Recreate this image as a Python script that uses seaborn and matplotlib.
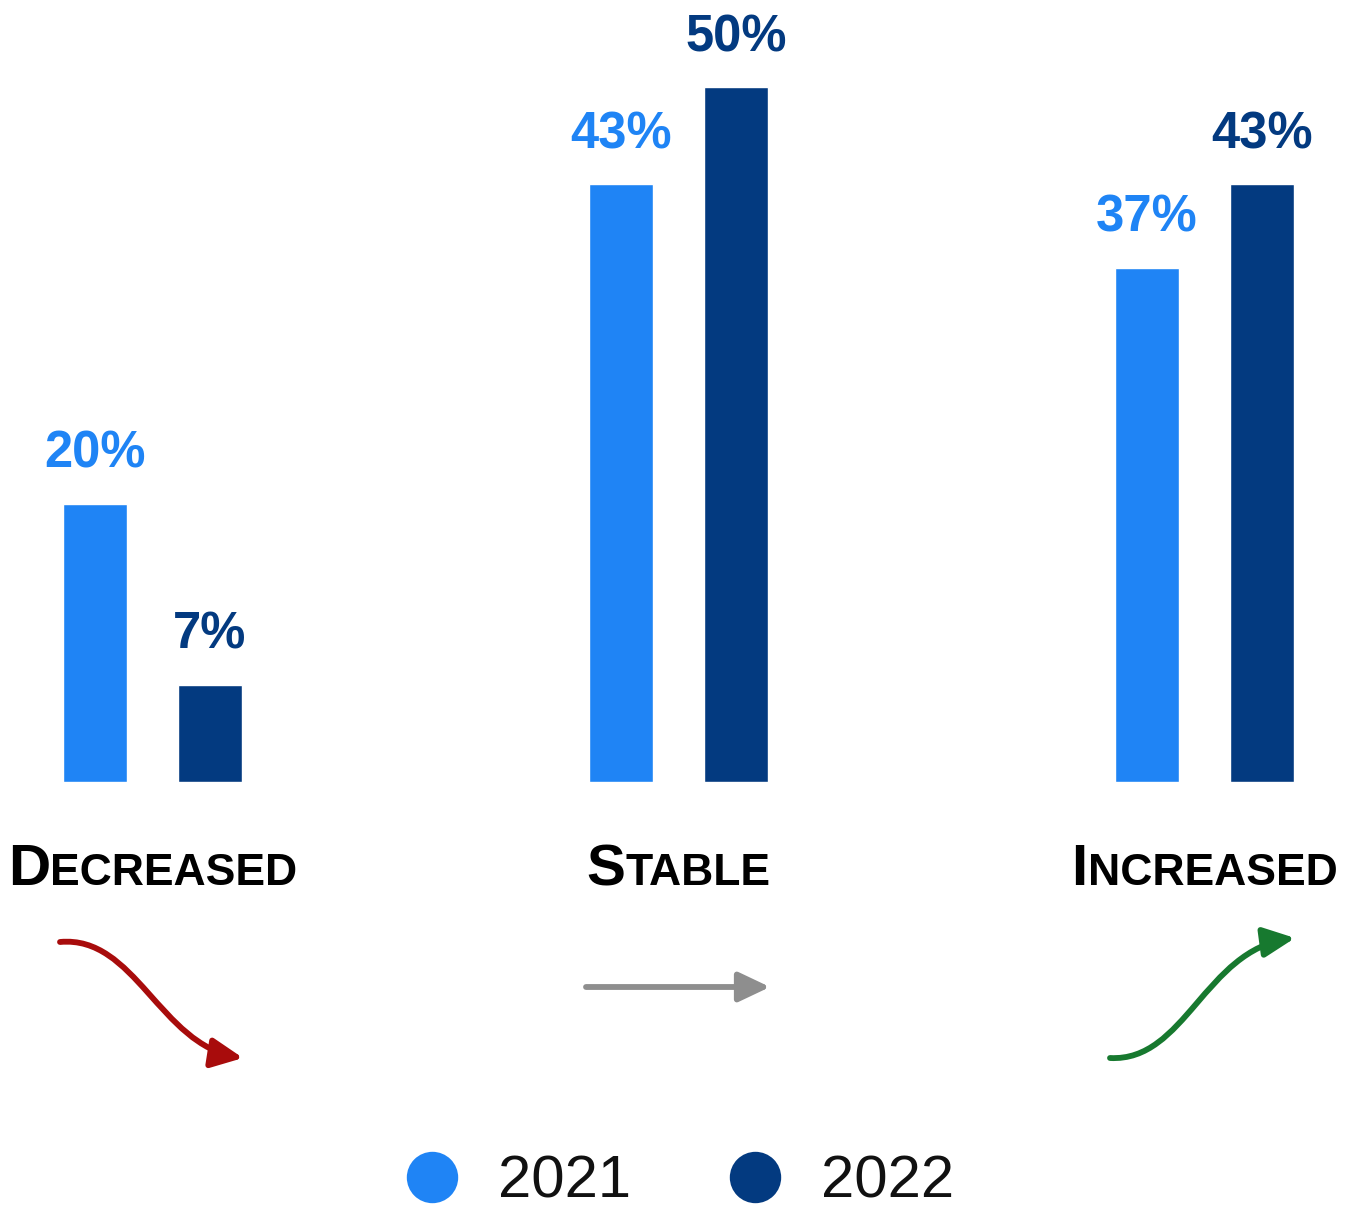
import matplotlib
matplotlib.use("Agg")
import matplotlib.pyplot as plt
from matplotlib.lines import Line2D
from matplotlib.patches import FancyArrowPatch
from matplotlib.path import Path
import seaborn as sns
import pandas as pd

# Share of respondents per trend, by survey year
categories = ["Decreased", "Stable", "Increased"]
years = ["2021", "2022"]
values_2021 = [20, 43, 37]
values_2022 = [7, 50, 43]

colors = {"2021": "#1F84F5", "2022": "#033A80"}

df = pd.DataFrame({
    "trend": categories * 2,
    "year": [years[0]] * 3 + [years[1]] * 3,
    "share": values_2021 + values_2022,
})

sns.set_theme(style="white")
plt.rcParams["font.family"] = ["Liberation Sans", "DejaVu Sans"]

W, H = 1351, 1212
fig = plt.figure(figsize=(W / 100, H / 100), dpi=100)
fig.patch.set_facecolor("white")

# main bar axes: baseline sits 782 px from the top
ax = fig.add_axes([0, (H - 782) / H, 1, 782 / H])
sns.barplot(data=df, x="trend", y="share", hue="year", order=categories,
            hue_order=years, palette=colors, width=0.437, gap=0.45,
            saturation=1, legend=False, ax=ax)
ax.set_xlim(-152.5 / 526, (W - 152.5) / 526)
ax.set_ylim(0, 782 / 13.9)
ax.set_axis_off()

for cont, yr in zip(ax.containers, years):
    ax.bar_label(cont, labels=[f"{v:.0f}%" for v in cont.datavalues],
                 padding=18, fontsize=36.5, fontweight="bold", color=colors[yr])

# overlay in pixel coordinates (origin top-left) for captions and arrows
deco = fig.add_axes([0, 0, 1, 1], zorder=3)
deco.set_xlim(0, W)
deco.set_ylim(H, 0)
deco.set_axis_off()
deco.patch.set_alpha(0)

fig.canvas.draw()
renderer = fig.canvas.get_renderer()
baseline_y = 885
for i, name in enumerate(categories):
    cx_disp = ax.transData.transform((i, 0))[0]
    cx = deco.transData.inverted().transform((cx_disp, 0))[0]
    big = deco.text(0, baseline_y, name[0].upper(), fontsize=42,
                    fontweight="bold", color="black", ha="left", va="baseline")
    small = deco.text(0, baseline_y, name[1:].upper(), fontsize=32,
                      fontweight="bold", color="black", ha="left", va="baseline")
    w1 = big.get_window_extent(renderer).width
    w2 = small.get_window_extent(renderer).width
    x0 = cx - (w1 + w2) / 2
    big.set_x(x0)
    small.set_x(x0 + w1)

# trend arrows
arrows = [
    ([(60, 942), (135, 935), (160, 1045), (243, 1058)], "#A80C0C"),
    ([(586, 987), (650, 987), (710, 987), (770, 987)], "#8E8E8E"),
    ([(1110, 1058), (1185, 1062), (1205, 950), (1295, 938)], "#17792F"),
]
codes = [Path.MOVETO, Path.CURVE4, Path.CURVE4, Path.CURVE4]
for verts, col in arrows:
    arr = FancyArrowPatch(path=Path(verts, codes),
                          arrowstyle="-|>,head_length=19,head_width=9",
                          mutation_scale=1, lw=4.2, color=col,
                          shrinkA=0, shrinkB=0, capstyle="round",
                          transform=deco.transData)
    deco.add_patch(arr)

handles = [Line2D([], [], ls="", marker="o", markersize=37,
                  markeredgewidth=0, color=colors[y]) for y in years]
fig.legend(handles, years, loc="center", bbox_to_anchor=(680 / W, 30 / H),
           ncol=2, frameon=False, fontsize=43, labelcolor="#111111",
           handlelength=0.87, handletextpad=0.67, columnspacing=1.65,
           borderpad=0, borderaxespad=0)

fig.savefig("out.png", dpi=100, facecolor="white")
